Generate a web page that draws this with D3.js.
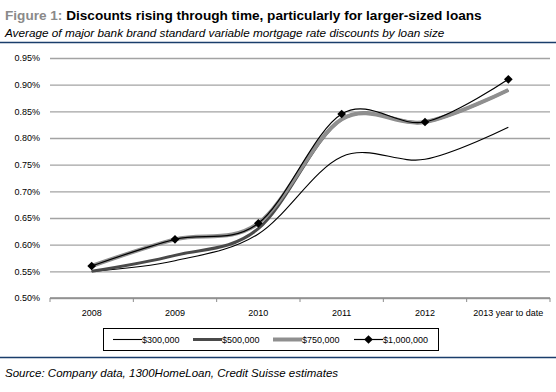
<!DOCTYPE html>
<html>
<head>
<meta charset="utf-8">
<script src="https://cdn.jsdelivr.net/npm/d3@7"></script>
<style>
  body { margin: 0; background: #fff; }
  svg { display: block; font-family: "Liberation Sans", Arial, sans-serif; }
</style>
</head>
<body>
<svg id="chart" width="556" height="392"></svg>
<script>
// categories and values (discount, %)
const years = ['2008', '2009', '2010', '2011', '2012', '2013 year to date'];
const loan300k = [0.55, 0.57, 0.62, 0.765, 0.76, 0.82];
const loan500k = [0.55, 0.58, 0.63, 0.835, 0.83, 0.89];
const loan750k = [0.56, 0.61, 0.64, 0.835, 0.83, 0.89];
const loan1m   = [0.56, 0.61, 0.64, 0.845, 0.83, 0.91];
const yTicks = [0.50, 0.55, 0.60, 0.65, 0.70, 0.75, 0.80, 0.85, 0.90, 0.95];

const series = [
  {name: '$300,000',   values: loan300k, color: '#000',    width: 1.1, marker: false},
  {name: '$500,000',   values: loan500k, color: '#4a4a4a', width: 3,   marker: false},
  {name: '$750,000',   values: loan750k, color: '#8f8f8f', width: 4,   marker: false},
  {name: '$1,000,000', values: loan1m,   color: '#000',    width: 1.2, marker: true}
];

const svg = d3.select('#chart');
const plot = {left: 50, right: 550, top: 58, bottom: 298};

// header
const title = svg.append('text').attr('x', 5).attr('y', 20)
                 .style('font-size', '13.6px').style('font-weight', 'bold');
title.append('tspan').text('Figure 1: ').style('fill', '#8a8a8a');
title.append('tspan').text('Discounts rising through time, particularly for larger-sized loans')
     .style('fill', '#000');
svg.append('text').attr('x', 5).attr('y', 37)
   .text('Average of major bank brand standard variable mortgage rate discounts by loan size')
   .style('font-size', '11.75px').style('font-style', 'italic');
svg.append('line').attr('x1', 0).attr('x2', 556).attr('y1', 42.5).attr('y2', 42.5)
   .style('stroke', '#1a3d6b').style('stroke-width', 1.3);

// scales
const xScale = d3.scaleBand().domain(years).range([plot.left, plot.right]);
const yScale = d3.scaleLinear().domain([0.5, 0.95]).range([plot.bottom, plot.top]);
const xMid = d => xScale(d) + xScale.bandwidth() / 2;

// grid + y axis
const yAxis = d3.axisLeft(yScale).tickValues(yTicks)
                .tickFormat(d => d3.format('.2f')(d) + '%')
                .tickSizeInner(-(plot.right - plot.left)).tickSizeOuter(0).tickPadding(10);
const yAxisDraw = svg.append('g').attr('transform', `translate(${plot.left},0)`).call(yAxis);
yAxisDraw.select('.domain').remove();
yAxisDraw.selectAll('line').style('stroke', '#a3a3a3').style('stroke-width', 1.4);
yAxisDraw.selectAll('text').style('font-size', '9px').style('fill', '#000')
         .attr('font-family', null);

// x axis (ticks at band boundaries)
svg.append('line').attr('x1', plot.left).attr('x2', plot.right)
   .attr('y1', plot.bottom).attr('y2', plot.bottom)
   .style('stroke', '#8c8c8c').style('stroke-width', 1.3);
const bounds = years.map(d => xScale(d)).concat([plot.right]);
svg.append('g').selectAll('line').data(bounds).enter().append('line')
   .attr('x1', d => d).attr('x2', d => d)
   .attr('y1', plot.bottom).attr('y2', plot.bottom + 4)
   .style('stroke', '#8c8c8c').style('stroke-width', 1);
svg.append('g').selectAll('text').data(years).enter().append('text')
   .attr('x', d => xMid(d)).attr('y', plot.bottom + 18)
   .attr('text-anchor', 'middle')
   .style('font-size', '9px')
   .text(d => d);

// lines
const lineGen = d3.line()
                  .x((d, i) => xMid(years[i]))
                  .y(d => yScale(d))
                  .curve(d3.curveCardinal.tension(0));
const chartGroup = svg.append('g');
chartGroup.selectAll('.line-series').data(series).enter()
          .append('path')
          .attr('class', 'line-series')
          .attr('d', d => lineGen(d.values))
          .style('fill', 'none')
          .style('stroke', d => d.color)
          .style('stroke-width', d => d.width);

const diamond = d3.symbol().type(d3.symbolDiamond2).size(48);
series.filter(s => s.marker).forEach(s => {
  chartGroup.selectAll(null).data(s.values).enter()
            .append('path')
            .attr('d', diamond)
            .attr('transform', (d, i) => `translate(${xMid(years[i])},${yScale(d)})`)
            .style('fill', '#000');
});

// legend
const legend = {x: 103, y: 328, w: 335, h: 22};
svg.append('rect').attr('x', legend.x + 0.5).attr('y', legend.y + 0.5)
   .attr('width', legend.w).attr('height', legend.h)
   .style('fill', 'none').style('stroke', '#000').style('stroke-width', 1);
const legendX = [113, 193, 273, 354];
const items = svg.append('g').selectAll('g').data(series).enter().append('g')
                 .attr('transform', (d, i) => `translate(${legendX[i]},${legend.y + legend.h / 2 + 0.5})`);
items.append('line').attr('x1', 0).attr('x2', 29).attr('y1', 0).attr('y2', 0)
     .style('stroke', d => d.color).style('stroke-width', d => d.width);
items.filter(d => d.marker).append('path').attr('d', diamond)
     .attr('transform', 'translate(14.5,0)').style('fill', '#000');
items.append('text').attr('x', 29).attr('y', 0).attr('dy', '0.35em')
     .style('font-size', '9px').text(d => d.name);

// footer
svg.append('line').attr('x1', 0).attr('x2', 556).attr('y1', 357.5).attr('y2', 357.5)
   .style('stroke', '#1a3d6b').style('stroke-width', 1.3);
svg.append('text').attr('x', 5).attr('y', 377)
   .text('Source: Company data, 1300HomeLoan, Credit Suisse estimates')
   .style('font-size', '11.5px').style('font-style', 'italic');
</script>
</body>
</html>
